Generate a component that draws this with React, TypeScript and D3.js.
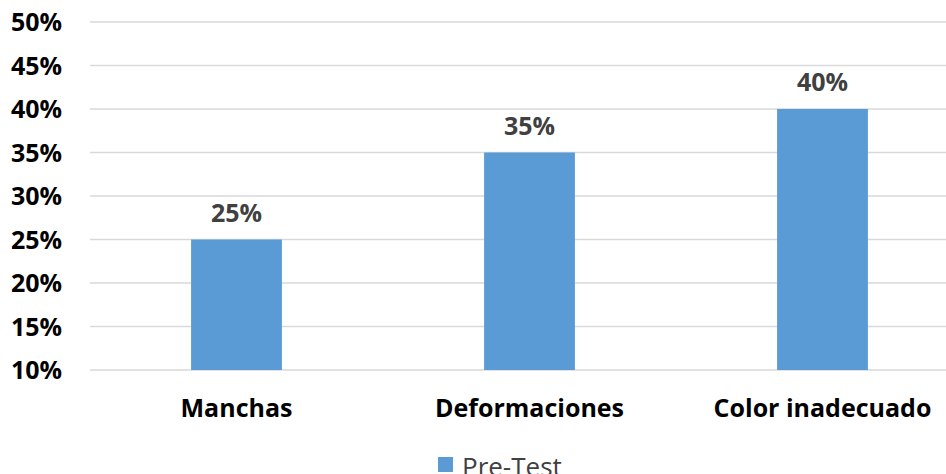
import React from "react";
import * as d3 from "d3";

const categories = ["Manchas", "Deformaciones", "Color inadecuado"];
const preTest = [0.25, 0.35, 0.4];
const yTicks = [0.1, 0.15, 0.2, 0.25, 0.3, 0.35, 0.4, 0.45, 0.5];
const seriesName = "Pre-Test";

const W = 946;
const H = 474;
const BAR = "#5b9bd5";
const FONT = "'Open Sans', 'DejaVu Sans', sans-serif";

export default function App() {
  const y = d3.scaleLinear().domain([0.1, 0.5]).range([370, 22]);
  const x = d3.scaleBand<string>().domain(categories).range([90, 969]).padding(0);
  const bw = x.step() * 0.31;
  const pct = d3.format(".0%");

  return (
    <svg
      width={W}
      height={H}
      style={{ position: "absolute", left: 0, top: 0, background: "#fff" }}
      fontFamily={FONT}
    >
      <rect width={W} height={H} fill="#fff" />
      {yTicks.map((t) => (
        <g key={t}>
          <line x1={90} x2={W} y1={y(t)} y2={y(t)} stroke="#d9d9d9" strokeWidth={1.5} />
          <text
            x={62}
            y={y(t)}
            dy="0.36em"
            textAnchor="end"
            fontSize={25}
            fontWeight={700}
            fill="#000"
          >
            {pct(t)}
          </text>
        </g>
      ))}
      {categories.map((c, i) => {
        const cx = (x(c) as number) + x.bandwidth() / 2;
        return (
          <g key={c}>
            <rect x={cx - bw / 2} y={y(preTest[i])} width={bw} height={y(0.1) - y(preTest[i])} fill={BAR} />
            <text x={cx} y={y(preTest[i]) - 18} textAnchor="middle" fontSize={25} fontWeight={700} fill="#404040">
              {pct(preTest[i])}
            </text>
            <text x={cx} y={417} textAnchor="middle" fontSize={25} fontWeight={700} fill="#000">
              {c}
            </text>
          </g>
        );
      })}
      <rect x={438} y={457} width={15} height={15} fill={BAR} />
      <text x={462} y={476} fontSize={26} fill="#404040">
        {seriesName}
      </text>
    </svg>
  );
}
